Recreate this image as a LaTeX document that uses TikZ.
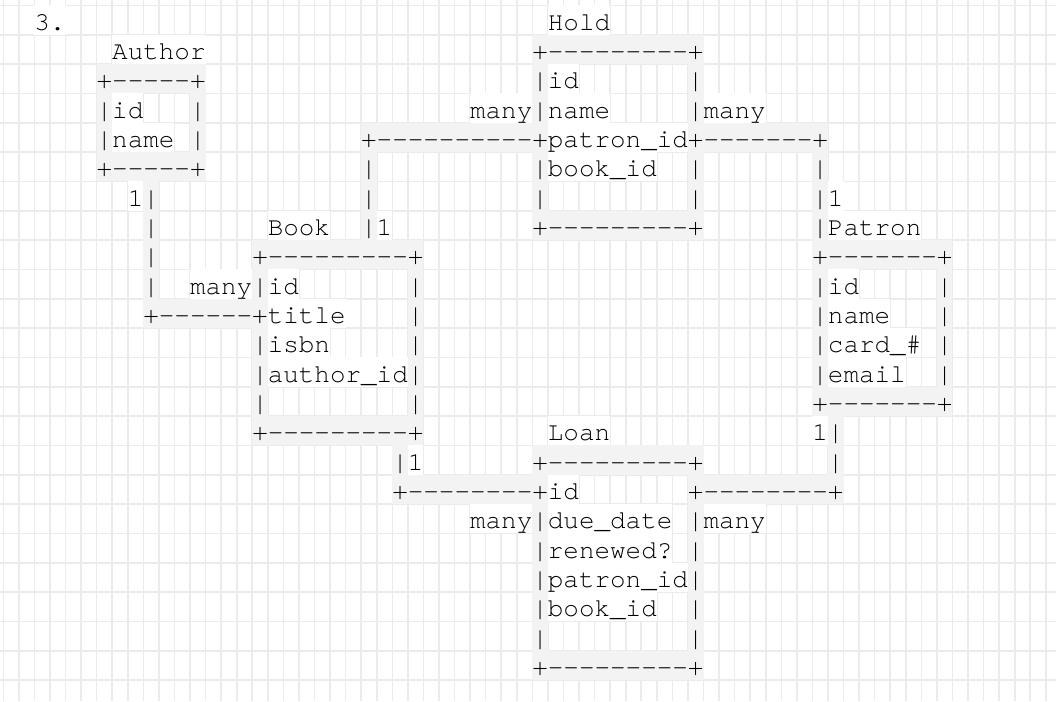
\documentclass[tikz,border=0pt]{standalone}
\usepackage{fontspec}
\setmonofont{TeX Gyre Cursor}
\definecolor{gridc}{HTML}{EBEBEB}
\definecolor{cellc}{HTML}{F3F3F3}
\pgfdeclarelayer{gridlayer}
\pgfdeclarelayer{celllayer}
\pgfsetlayers{gridlayer,celllayer,main}
\tikzset{
  txt/.style={anchor=base west, inner sep=0pt, outer sep=0pt,
    font=\ttfamily\fontsize{25.93}{29.33}\selectfont, text=black},
  gridline/.style={draw=gridc, line width=1.6pt}
}
\newcommand\cellfill[4]{\begin{pgfonlayer}{celllayer}\fill[#4] ({3.3+15.56*#1},{-5.5-29.33*#3}) rectangle ({3.3+15.56*(#2+1)},{-5.5-29.33*(#3+1)});\end{pgfonlayer}}
\newcommand\grayrun[5]{\cellfill{#2}{#3}{#4}{cellc}\node[txt] (#1) at ({3.3+15.56*#2},{-5.5-29.33*#4-24.8}) {#5};}
\newcommand\whiterun[5]{\cellfill{#2}{#3}{#4}{white}\node[txt] (#1) at ({3.3+15.56*#2},{-5.5-29.33*#4-24.8}) {#5};}
\begin{document}
\begin{tikzpicture}[x=1pt,y=1pt]
\useasboundingbox (0,0) rectangle (1056,-701);
\begin{pgfonlayer}{gridlayer}
\fill[white] (0,0) rectangle (1056,-701);
\foreach \k in {0,...,67} \draw[gridline] ({3.3+15.56*\k},0) -- ({3.3+15.56*\k},-701);
\foreach \r in {0,...,23} \draw[gridline] (0,{-5.5-29.33*\r}) -- (1056,{-5.5-29.33*\r});
\end{pgfonlayer}
% Row 0
\whiterun{num}{2}{3}{0}{3.}
\whiterun{holdT}{35}{38}{0}{Hold}
% Row 1
\whiterun{authT}{7}{12}{1}{Author}
\grayrun{holdTop}{34}{44}{1}{+---------+}
% Row 2
\grayrun{authTop}{6}{12}{2}{+-----+}
\grayrun{hTwoL}{34}{34}{2}{|}
\whiterun{hId}{35}{36}{2}{id}
\grayrun{hTwoR}{44}{44}{2}{|}
% Row 3
\grayrun{aThreeL}{6}{6}{3}{|}
\whiterun{aId}{7}{8}{3}{id}
\grayrun{aThreeR}{12}{12}{3}{|}
\whiterun{hManyL}{30}{33}{3}{many}
\grayrun{hThreeL}{34}{34}{3}{|}
\whiterun{hName}{35}{38}{3}{name}
\grayrun{hThreeR}{44}{44}{3}{|}
\whiterun{hManyR}{45}{48}{3}{many}
% Row 4
\grayrun{aFourL}{6}{6}{4}{|}
\whiterun{aName}{7}{10}{4}{name}
\grayrun{aFourR}{12}{12}{4}{|}
\grayrun{hLinkL}{23}{34}{4}{+----------+}
\whiterun{hPid}{35}{43}{4}{patron\_id}
\grayrun{hLinkR}{44}{52}{4}{+-------+}
% Row 5
\grayrun{authBot}{6}{12}{5}{+-----+}
\grayrun{cFiveA}{23}{23}{5}{|}
\grayrun{hFiveL}{34}{34}{5}{|}
\whiterun{hBid}{35}{41}{5}{book\_id}
\grayrun{hFiveR}{44}{44}{5}{|}
\grayrun{cFiveB}{52}{52}{5}{|}
% Row 6
\whiterun{aOne}{8}{8}{6}{1}
\grayrun{cSixA}{9}{9}{6}{|}
\grayrun{cSixB}{23}{23}{6}{|}
\grayrun{hSixL}{34}{34}{6}{|}
\grayrun{hSixR}{44}{44}{6}{|}
\grayrun{cSixC}{52}{52}{6}{|}
\whiterun{pOneTop}{53}{53}{6}{1}
% Row 7
\grayrun{cSevA}{9}{9}{7}{|}
\whiterun{bookT}{17}{20}{7}{Book}
\grayrun{cSevB}{23}{23}{7}{|}
\whiterun{bOneTop}{24}{24}{7}{1}
\grayrun{holdBot}{34}{44}{7}{+---------+}
\grayrun{cSevC}{52}{52}{7}{|}
\whiterun{patT}{53}{58}{7}{Patron}
% Row 8
\grayrun{cEightA}{9}{9}{8}{|}
\grayrun{bookTop}{16}{26}{8}{+---------+}
\grayrun{patTop}{52}{60}{8}{+-------+}
% Row 9
\grayrun{cNineA}{9}{9}{9}{|}
\whiterun{bMany}{12}{15}{9}{many}
\grayrun{bNineL}{16}{16}{9}{|}
\whiterun{bId}{17}{18}{9}{id}
\grayrun{bNineR}{26}{26}{9}{|}
\grayrun{pNineL}{52}{52}{9}{|}
\whiterun{pId}{53}{54}{9}{id}
\grayrun{pNineR}{60}{60}{9}{|}
% Row 10
\grayrun{aLink}{9}{16}{10}{+------+}
\whiterun{bTitle}{17}{21}{10}{title}
\grayrun{bTenR}{26}{26}{10}{|}
\grayrun{pTenL}{52}{52}{10}{|}
\whiterun{pName}{53}{56}{10}{name}
\grayrun{pTenR}{60}{60}{10}{|}
% Row 11
\grayrun{bElL}{16}{16}{11}{|}
\whiterun{bIsbn}{17}{20}{11}{isbn}
\grayrun{bElR}{26}{26}{11}{|}
\grayrun{pElL}{52}{52}{11}{|}
\whiterun{pCard}{53}{58}{11}{card\_\#}
\grayrun{pElR}{60}{60}{11}{|}
% Row 12
\grayrun{bTwL}{16}{16}{12}{|}
\whiterun{bAid}{17}{25}{12}{author\_id}
\grayrun{bTwR}{26}{26}{12}{|}
\grayrun{pTwL}{52}{52}{12}{|}
\whiterun{pEmail}{53}{57}{12}{email}
\grayrun{pTwR}{60}{60}{12}{|}
% Row 13
\grayrun{bThL}{16}{16}{13}{|}
\grayrun{bThR}{26}{26}{13}{|}
\grayrun{patBot}{52}{60}{13}{+-------+}
% Row 14
\grayrun{bookBot}{16}{26}{14}{+---------+}
\whiterun{loanT}{35}{38}{14}{Loan}
\whiterun{pOneBot}{52}{52}{14}{1}
\grayrun{cFtB}{53}{53}{14}{|}
% Row 15
\grayrun{cFfA}{25}{25}{15}{|}
\whiterun{bOneBot}{26}{26}{15}{1}
\grayrun{loanTop}{34}{44}{15}{+---------+}
\grayrun{cFfB}{53}{53}{15}{|}
% Row 16
\grayrun{lLinkL}{25}{34}{16}{+--------+}
\whiterun{lId}{35}{36}{16}{id}
\grayrun{lLinkR}{44}{53}{16}{+--------+}
% Row 17
\whiterun{lManyL}{30}{33}{17}{many}
\grayrun{lSvL}{34}{34}{17}{|}
\whiterun{lDue}{35}{42}{17}{due\_date}
\grayrun{lSvR}{44}{44}{17}{|}
\whiterun{lManyR}{45}{48}{17}{many}
% Row 18
\grayrun{lEiL}{34}{34}{18}{|}
\whiterun{lRen}{35}{42}{18}{renewed?}
\grayrun{lEiR}{44}{44}{18}{|}
% Row 19
\grayrun{lNiL}{34}{34}{19}{|}
\whiterun{lPid}{35}{43}{19}{patron\_id}
\grayrun{lNiR}{44}{44}{19}{|}
% Row 20
\grayrun{lTwL}{34}{34}{20}{|}
\whiterun{lBid}{35}{41}{20}{book\_id}
\grayrun{lTwR}{44}{44}{20}{|}
% Row 21
\grayrun{lTOL}{34}{34}{21}{|}
\grayrun{lTOR}{44}{44}{21}{|}
% Row 22
\grayrun{loanBot}{34}{44}{22}{+---------+}
\end{tikzpicture}
\end{document}
